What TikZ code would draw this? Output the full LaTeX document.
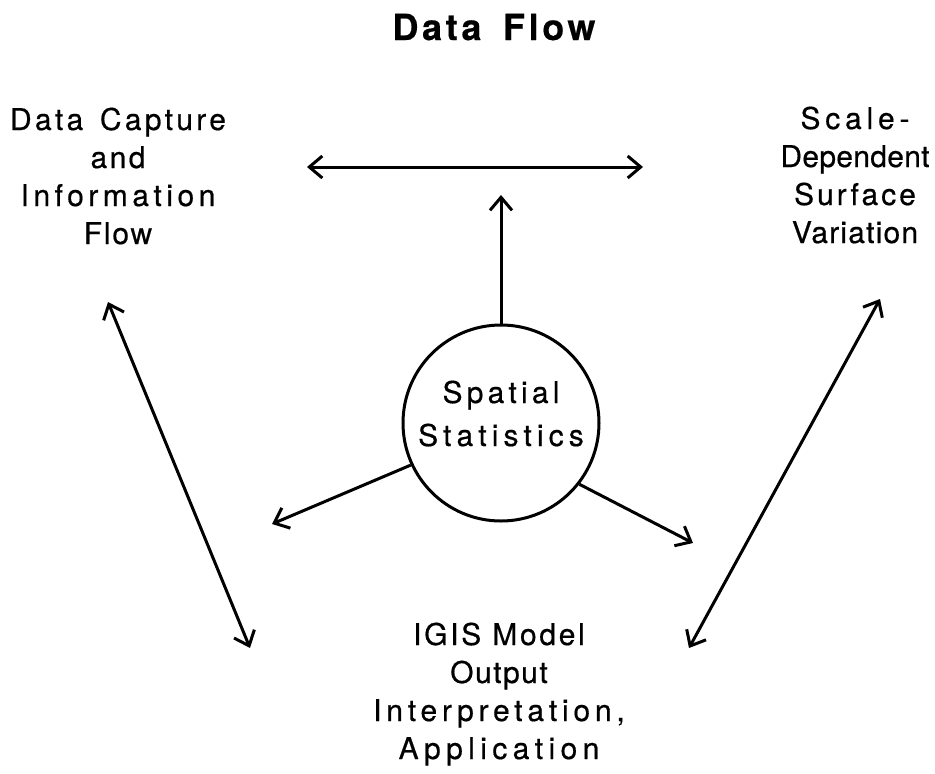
\documentclass[tikz,border=0pt]{standalone}
\usepackage{fontspec}
\setmainfont{TeX Gyre Heros}
\newfontfamily\labfont[FakeBold=0.5]{TeX Gyre Heros}
\newfontfamily\headfont[LetterSpace=10,FakeBold=0.4]{TeX Gyre Heros}
\newcommand{\trk}[2]{{\addfontfeatures{LetterSpace=#1}#2}}
\usetikzlibrary{arrows.meta}
\begin{document}
\begin{tikzpicture}[x=1pt,y=-1pt,
  >={Straight Barb[length=13pt,width=22pt]},
  flow/.style={line width=3pt},
  label/.style={inner sep=0pt,anchor=base,font=\labfont\fontsize{30}{38}\selectfont},
  hub/.style={circle,draw,line width=3pt,minimum size=196pt,inner sep=0pt},
  heading/.style={inner sep=0pt,anchor=base,font=\headfont\bfseries\fontsize{36}{40}\selectfont}]
\useasboundingbox (0,0) rectangle (935,774);

% title
\node[heading] (title) at (494,40) {Data\ \hspace{8pt}Flow};

% central circle
\node[hub] (stat) at (501,423) {};
\node[label] (statA) at (501,403) {\trk{14}{Spatial}};
\node[label] (statB) at (501,446) {\trk{17}{Statistics}};

% the three outer topics
\node[label] (capture) at (118,130) {\begin{tabular}[t]{@{}c@{}}\trk{11}{Data\ \hspace{5pt}Capture}\\\trk{8}{and}\\\trk{15}{Information}\\\trk{6}{Flow}\end{tabular}};
\node[label] (scale) at (855,129) {\begin{tabular}[t]{@{}c@{}}\trk{16}{Scale-}\\\trk{1}{Dependent}\\\trk{10}{Surface}\\\trk{4}{Variation}\end{tabular}};
\node[label] (igis) at (499,645) {\begin{tabular}[t]{@{}c@{}}\trk{9}{IGIS Model}\\\trk{5}{Output}\\\trk{16}{Interpretation,}\\\trk{18}{Application}\end{tabular}};

% free ends of the connectors
\coordinate (hL) at (307,167);
\coordinate (hR) at (643,167);
\coordinate (vT) at (501,195);
\coordinate (lowL) at (272,524);
\coordinate (lowR) at (693,543);
\coordinate (dLT) at (108,302);
\coordinate (dLB) at (250,648);
\coordinate (dRT) at (880,299);
\coordinate (dRB) at (689,648);

% connectors
\draw[flow,<->] (hL) -- (hR);
\draw[flow,->] (stat.north) -- (vT);
\draw[flow,->] (stat.205) -- (lowL);
\draw[flow,->] (stat.-38) -- (lowR);
\draw[flow,<->] (dLT) -- (dLB);
\draw[flow,<->] (dRT) -- (dRB);
\end{tikzpicture}
\end{document}
